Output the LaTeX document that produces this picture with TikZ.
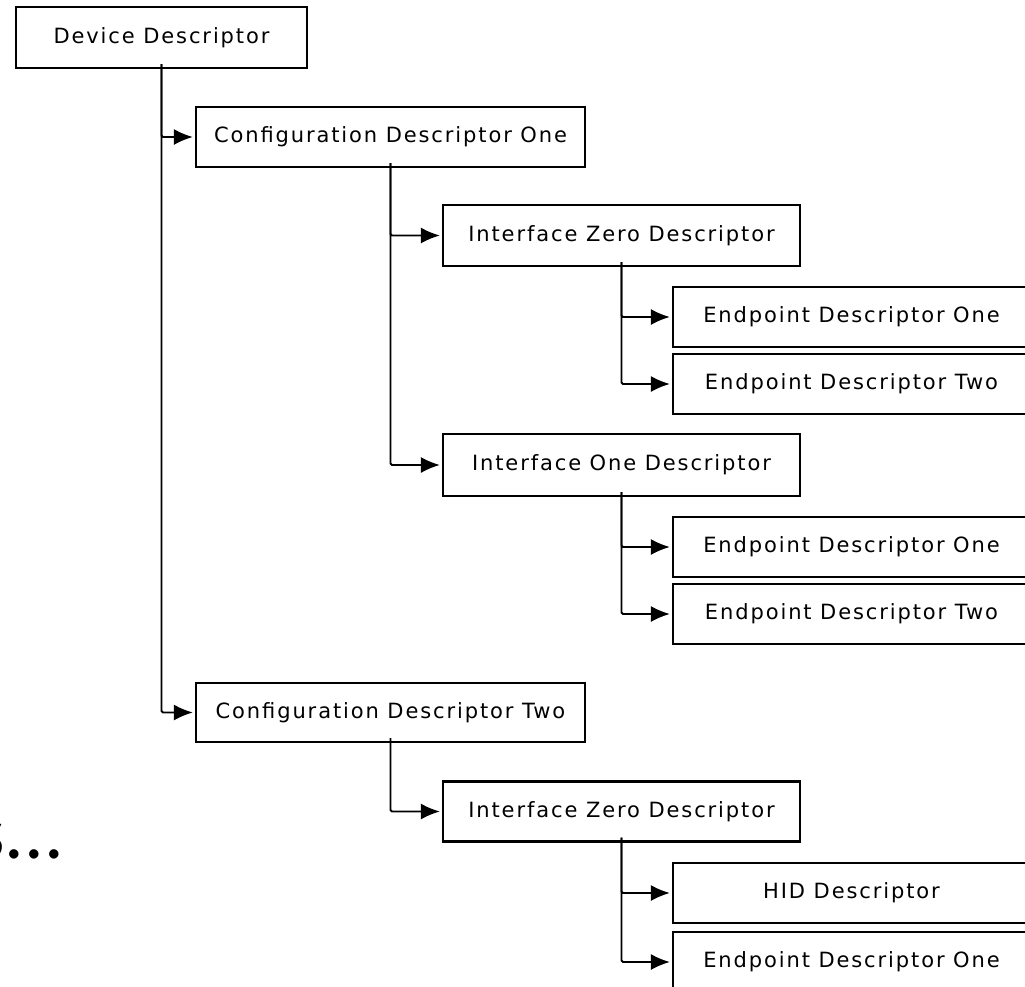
\documentclass[tikz,border=0pt]{standalone}
\usepackage{fontspec}
\usetikzlibrary{arrows.meta}
\newfontfamily\boxfont[LetterSpace=9]{DejaVu Sans}
\newfontfamily\bigfont{Carlito}
\begin{document}
\begin{tikzpicture}[x=1pt,y=-1pt,
  desc/.style={draw=black, line width=2.2pt, fill=white, inner sep=0pt,
    font=\boxfont\fontsize{21}{21}\selectfont, text=black},
  link/.style={line width=1.9pt, -{Latex[length=19pt,width=16pt]}, shorten >=2pt, rounded corners=1.5pt}]
\fill[white] (0,0) rectangle (1025,986);
\useasboundingbox (0,0) rectangle (1025,986);
\clip (0,0) rectangle (1025,986);
% boxes
\node[desc, minimum width=291pt, minimum height=61pt] (dev)  at (161.5,37.5) {Device Descriptor};
\node[desc, minimum width=389pt, minimum height=60pt] (cfg1) at (390.5,137) {Configuration Descriptor One};
\node[desc, minimum width=357pt, minimum height=61pt] (if0)  at (621.5,235.5) {Interface Zero Descriptor};
\node[desc, minimum width=357pt, minimum height=60pt] (ep1)  at (851.5,317) {Endpoint Descriptor One};
\node[desc, minimum width=357pt, minimum height=60pt] (ep2)  at (851.5,384) {Endpoint Descriptor Two};
\node[desc, minimum width=357pt, minimum height=62pt] (if1)  at (621.5,465) {Interface One Descriptor};
\node[desc, minimum width=357pt, minimum height=60pt] (ep3)  at (851.5,547) {Endpoint Descriptor One};
\node[desc, minimum width=357pt, minimum height=60pt] (ep4)  at (851.5,614) {Endpoint Descriptor Two};
\node[desc, minimum width=389pt, minimum height=59pt] (cfg2) at (390.5,712.5) {Configuration Descriptor Two};
\node[desc, minimum width=357pt, minimum height=60pt] (if2)  at (621.5,811.5) {Interface Zero Descriptor};
\node[desc, minimum width=357pt, minimum height=60pt] (hid)  at (851.5,893) {HID Descriptor};
\node[desc, minimum width=357pt, minimum height=60pt] (ep5)  at (851.5,962) {Endpoint Descriptor One};
% connectors
\draw[link] ([yshift=5pt]dev.south) |- (cfg1.west);
\draw[link] ([yshift=5pt]dev.south) |- (cfg2.west);
\draw[link] ([yshift=5pt]cfg1.south) |- (if0.west);
\draw[link] ([yshift=5pt]cfg1.south) |- (if1.west);
\draw[link] ([yshift=5pt]if0.south) |- (ep1.west);
\draw[link] ([yshift=5pt]if0.south) |- (ep2.west);
\draw[link] ([yshift=5pt]if1.south) |- (ep3.west);
\draw[link] ([yshift=5pt]if1.south) |- (ep4.west);
\draw[link] ([yshift=5pt]cfg2.south) |- (if2.west);
\draw[link] ([yshift=5pt]if2.south) |- (hid.west);
\draw[link] ([yshift=5pt]if2.south) |- (ep5.west);
% partial text
\node[anchor=base east, inner sep=0pt, font=\bigfont\fontsize{78}{78}\selectfont] (more) at (64,858) {s...};
\end{tikzpicture}
\end{document}
